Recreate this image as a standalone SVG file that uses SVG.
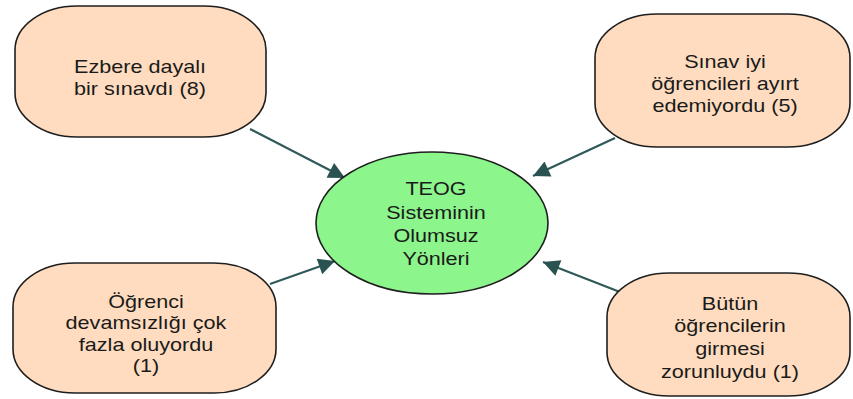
<svg xmlns="http://www.w3.org/2000/svg" width="853" height="399" viewBox="0 0 853 399">
<style>
.box{fill:#ffdcbf;stroke:#1e1e1e;stroke-width:1.6}
.ell{fill:#8cf58c;stroke:#1e1e1e;stroke-width:1.6}
.lbl{font-family:"Liberation Sans",Arial,sans-serif;font-size:18px;fill:#1a1a1a;text-anchor:middle}
.con{stroke:#2f5a58;stroke-width:2.2;fill:none;marker-end:url(#ah)}
</style>
<defs>
<marker id="ah" viewBox="0 0 10 10" refX="10" refY="5" markerWidth="8.5" markerHeight="7.5" markerUnits="strokeWidth" orient="auto">
<path d="M0,0 L10,5 L0,10 z" fill="#2a5250"/>
</marker>
</defs>
<rect width="853" height="399" fill="#ffffff"/>
<g id="connectors">
<line class="con" x1="250" y1="129" x2="345" y2="178"/>
<line class="con" x1="615" y1="138" x2="533" y2="176"/>
<line class="con" x1="270" y1="284" x2="335" y2="261"/>
<line class="con" x1="620" y1="292" x2="543" y2="262"/>
</g>
<g id="node-ezbere">
<rect class="box" x="15" y="6" width="251" height="131" rx="62" ry="44"/>
<text class="lbl" transform="translate(140,0) scale(1.2,1)"><tspan x="0" y="73">Ezbere dayalı</tspan><tspan x="0" y="95">bir sınavdı (8)</tspan></text>
</g>
<g id="node-sinav">
<rect class="box" x="595" y="14" width="255" height="133" rx="62" ry="44"/>
<text class="lbl" transform="translate(725,0) scale(1.2,1)"><tspan x="0" y="68">Sınav iyi</tspan><tspan x="0" y="90">öğrencileri ayırt</tspan><tspan x="0" y="112">edemiyordu (5)</tspan></text>
</g>
<g id="node-center">
<ellipse class="ell" cx="432" cy="223" rx="116" ry="71"/>
<text class="lbl" transform="translate(436,0) scale(1.2,1)"><tspan x="0" y="195">TEOG</tspan><tspan x="0" y="219">Sisteminin</tspan><tspan x="0" y="242">Olumsuz</tspan><tspan x="0" y="265">Yönleri</tspan></text>
</g>
<g id="node-devamsizlik">
<rect class="box" x="13" y="263" width="263" height="130" rx="62" ry="44"/>
<text class="lbl" transform="translate(146,0) scale(1.2,1)"><tspan x="0" y="308">Öğrenci</tspan><tspan x="0" y="329.5">devamsızlığı çok</tspan><tspan x="0" y="351">fazla oluyordu</tspan><tspan x="0" y="372">(1)</tspan></text>
</g>
<g id="node-butun">
<rect class="box" x="607" y="273" width="243" height="123" rx="62" ry="44"/>
<text class="lbl" transform="translate(730,0) scale(1.2,1)"><tspan x="0" y="310">Bütün</tspan><tspan x="0" y="332.5">öğrencilerin</tspan><tspan x="0" y="355">girmesi</tspan><tspan x="0" y="378">zorunluydu (1)</tspan></text>
</g>
</svg>
